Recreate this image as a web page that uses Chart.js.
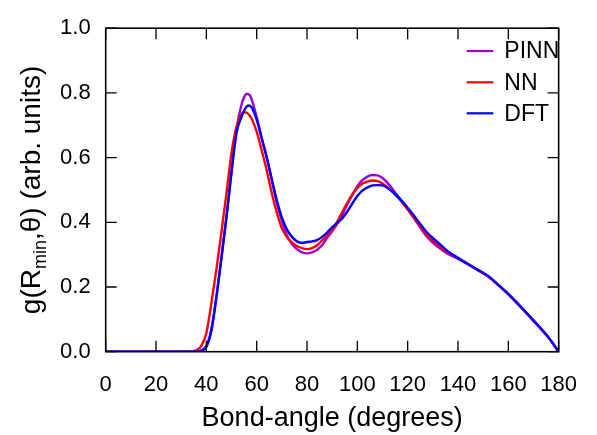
<!DOCTYPE html>
<html>
<head>
<meta charset="utf-8">
<script src="https://cdn.jsdelivr.net/npm/chart.js@4.4.1/dist/chart.umd.min.js"></script>
<style>
  html, body { margin: 0; padding: 0; background: #ffffff; }
  canvas { display: block; }
</style>
</head>
<body>
<canvas id="c" width="597" height="435"></canvas>
<script>
const FONT = "'Liberation Sans', Arial, Helvetica, sans-serif";

const angles = [0,10,20,30,34,36,38,40,42,44,46,48,50,52,54,55,56,57,58,60,62,64,66,68,70,72,74,76,78,80,82,84,86,88,90,92,94,96,98,100,102,104,106,108,110,112,116,120,124,128,132,136,140,144,148,152,156,160,164,168,172,176,180];

const pinn = [0,0,0,0,0,0,0.004,0.018,0.07,0.172,0.292,0.418,0.558,0.69,0.765,0.787,0.797,0.795,0.78,0.725,0.66,0.6,0.53,0.46,0.405,0.36,0.333,0.317,0.307,0.304,0.307,0.315,0.33,0.352,0.372,0.395,0.423,0.455,0.485,0.512,0.53,0.541,0.546,0.545,0.537,0.522,0.482,0.44,0.395,0.352,0.324,0.302,0.287,0.27,0.251,0.232,0.206,0.178,0.146,0.113,0.079,0.044,0];

const nn = [0,0,0,0,0.001,0.004,0.018,0.058,0.15,0.255,0.37,0.49,0.615,0.697,0.735,0.74,0.739,0.732,0.72,0.68,0.622,0.56,0.49,0.43,0.382,0.354,0.338,0.327,0.32,0.317,0.32,0.329,0.344,0.36,0.378,0.402,0.432,0.46,0.486,0.506,0.519,0.526,0.529,0.527,0.52,0.508,0.478,0.44,0.398,0.358,0.33,0.306,0.289,0.271,0.252,0.232,0.206,0.177,0.145,0.112,0.078,0.043,0];

const dft = [0,0,0,0,0,0,0.003,0.015,0.065,0.168,0.29,0.415,0.555,0.677,0.727,0.745,0.758,0.761,0.755,0.717,0.66,0.6,0.533,0.468,0.415,0.378,0.355,0.341,0.336,0.339,0.341,0.345,0.355,0.368,0.385,0.398,0.412,0.433,0.458,0.481,0.498,0.508,0.514,0.515,0.514,0.506,0.48,0.445,0.405,0.366,0.338,0.31,0.29,0.271,0.253,0.234,0.207,0.179,0.147,0.114,0.08,0.044,0];

const seriesNames = ['PINN', 'NN', 'DFT'];
const seriesColors = ['#9a00d8', '#ff0000', '#0000ff'];
const xTicks = [0,20,40,60,80,100,120,140,160,180];
const yTicks = [0,0.2,0.4,0.6,0.8,1.0];
const xTitle = 'Bond-angle (degrees)';

function pts(arr) { return angles.map((a, i) => ({ x: a, y: arr[i] })); }

const framePlugin = {
  id: 'frame',
  afterDatasetsDraw(chart) {
    const { ctx, chartArea: ca, scales } = chart;
    const L = 11;
    ctx.save();
    ctx.strokeStyle = '#000';
    ctx.lineWidth = 1.3;
    ctx.beginPath();
    xTicks.forEach(v => {
      const px = scales.x.getPixelForValue(v);
      ctx.moveTo(px, ca.bottom); ctx.lineTo(px, ca.bottom - L);
      ctx.moveTo(px, ca.top); ctx.lineTo(px, ca.top + L);
    });
    yTicks.forEach(v => {
      const py = scales.y.getPixelForValue(v);
      ctx.moveTo(ca.left, py); ctx.lineTo(ca.left + L, py);
      ctx.moveTo(ca.right, py); ctx.lineTo(ca.right - L, py);
    });
    ctx.stroke();
    ctx.lineWidth = 1.6;
    ctx.strokeRect(ca.left, ca.top, ca.right - ca.left, ca.bottom - ca.top);

    // y-axis title with subscript
    const cy = (ca.top + ca.bottom) / 2;
    const mainFont = '28px ' + FONT;
    const subFont = '18px ' + FONT;
    const parts = [
      { t: 'g(R', f: mainFont, dy: 0 },
      { t: 'min', f: subFont, dy: 6 },
      { t: ',\u03b8) (arb. units)', f: mainFont, dy: 0 }
    ];
    let total = 0;
    parts.forEach(p => { ctx.font = p.f; p.w = ctx.measureText(p.t).width; total += p.w; });
    ctx.translate(39.5, cy);
    ctx.rotate(-Math.PI / 2);
    ctx.fillStyle = '#000';
    ctx.textBaseline = 'alphabetic';
    ctx.textAlign = 'left';
    let x = -total / 2;
    parts.forEach(p => { ctx.font = p.f; ctx.fillText(p.t, x, p.dy); x += p.w; });
    ctx.restore();

    // legend
    ctx.save();
    ctx.font = '23px ' + FONT;
    ctx.textBaseline = 'middle';
    ctx.textAlign = 'left';
    const rows = [51, 82.3, 113.3];
    chart.data.datasets.forEach((ds, i) => {
      const y = rows[i];
      ctx.strokeStyle = ds.borderColor;
      ctx.lineWidth = 2.2;
      ctx.beginPath();
      ctx.moveTo(466.7, y); ctx.lineTo(493.3, y);
      ctx.stroke();
      ctx.fillStyle = '#000';
      ctx.fillText(ds.label, 504.3, y + 1);
    });
    ctx.restore();
  }
};

new Chart(document.getElementById('c'), {
  type: 'line',
  data: {
    datasets: [
      { label: seriesNames[0], data: pts(pinn), borderColor: seriesColors[0], order: 3 },
      { label: seriesNames[1], data: pts(nn), borderColor: seriesColors[1], order: 2 },
      { label: seriesNames[2], data: pts(dft), borderColor: seriesColors[2], order: 1 }
    ]
  },
  options: {
    responsive: false,
    animation: false,
    devicePixelRatio: 1,
    layout: { padding: { left: 0, top: 23.7, right: 27.7, bottom: 0 } },
    elements: {
      point: { radius: 0 },
      line: { borderWidth: 2.4, cubicInterpolationMode: 'monotone', fill: false }
    },
    plugins: { legend: { display: false }, tooltip: { enabled: false } },
    scales: {
      x: {
        type: 'linear', min: 0, max: 180,
        grid: { display: false, drawTicks: false },
        border: { display: false },
        afterBuildTicks(s) { s.ticks = xTicks.map(v => ({ value: v })); },
        afterFit(s) { s.height = 435 - 351.7; },
        ticks: { color: '#000', padding: 20, font: { family: FONT, size: 22 }, maxRotation: 0, autoSkip: false },
        title: { display: true, text: xTitle, color: '#000', font: { family: FONT, size: 27 }, padding: { top: 0, bottom: 0 } }
      },
      y: {
        type: 'linear', min: 0, max: 1,
        grid: { display: false, drawTicks: false },
        border: { display: false },
        afterBuildTicks(s) { s.ticks = yTicks.map(v => ({ value: v })); },
        afterFit(s) { s.width = 105.7; },
        ticks: { color: '#000', padding: 15, font: { family: FONT, size: 22 }, callback: v => v.toFixed(1), autoSkip: false }
      }
    }
  },
  plugins: [framePlugin]
});
</script>
</body>
</html>
